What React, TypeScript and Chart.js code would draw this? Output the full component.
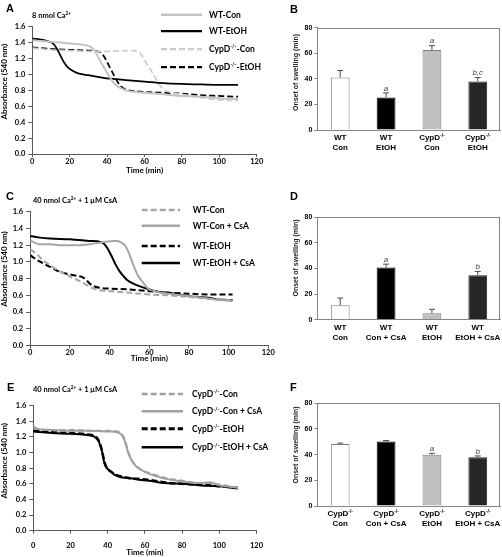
import React, { useEffect, useRef } from 'react';
import { Chart, registerables } from 'chart.js';
Chart.register(...registerables);

// ================= DATA =================
// Panel A : 8 nmol Ca2+
const aWtConT = [0, 5, 10, 15, 20, 25, 28, 31, 33, 35, 37, 39, 41, 43, 45, 47, 50, 55, 60, 70, 80, 90, 100, 110];
const aWtConV = [1.43, 1.42, 1.41, 1.40, 1.39, 1.38, 1.37, 1.35, 1.31, 1.23, 1.14, 1.06, 0.98, 0.91, 0.86, 0.83, 0.80, 0.78, 0.77, 0.75, 0.73, 0.72, 0.70, 0.69];
const aWtEtohT = [0, 4, 8, 11, 13, 15, 17, 19, 22, 25, 30, 35, 40, 45, 50, 60, 70, 80, 90, 100, 110];
const aWtEtohV = [1.45, 1.44, 1.42, 1.39, 1.33, 1.24, 1.15, 1.09, 1.04, 1.01, 0.99, 0.97, 0.95, 0.94, 0.93, 0.91, 0.89, 0.88, 0.875, 0.87, 0.87];
const aCypConT = [0, 10, 20, 30, 40, 50, 55, 57, 59, 61, 63, 65, 67, 69, 71, 75, 80, 90, 100, 110];
const aCypConV = [1.33, 1.31, 1.30, 1.29, 1.29, 1.30, 1.30, 1.28, 1.22, 1.14, 1.07, 0.99, 0.91, 0.84, 0.80, 0.77, 0.75, 0.71, 0.68, 0.67];
const aCypEtohT = [0, 10, 20, 30, 35, 37, 39, 41, 43, 45, 47, 50, 55, 60, 70, 80, 90, 100, 110];
const aCypEtohV = [1.34, 1.32, 1.31, 1.30, 1.29, 1.27, 1.20, 1.11, 1.02, 0.93, 0.86, 0.81, 0.79, 0.78, 0.77, 0.76, 0.74, 0.73, 0.72];

// Panel C : 40 nmol Ca2+ + 1 uM CsA (WT)
const cWtConT = [0, 3, 6, 10, 14, 18, 22, 25, 28, 30, 32, 35, 40, 50, 60, 70, 80, 90, 102];
const cWtConV = [1.15, 1.10, 1.03, 0.96, 0.90, 0.85, 0.80, 0.77, 0.73, 0.70, 0.68, 0.66, 0.65, 0.63, 0.61, 0.60, 0.58, 0.56, 0.54];
const cWtConCsaT = [0, 2, 5, 10, 15, 20, 25, 30, 35, 38, 42, 44, 46, 48, 50, 52, 54, 56, 58, 60, 63, 66, 70, 80, 90, 102];
const cWtConCsaV = [1.26, 1.23, 1.21, 1.21, 1.20, 1.20, 1.20, 1.21, 1.23, 1.24, 1.25, 1.25, 1.23, 1.19, 1.09, 0.96, 0.85, 0.78, 0.72, 0.67, 0.65, 0.63, 0.62, 0.59, 0.56, 0.53];
const cWtEtohT = [0, 3, 6, 10, 14, 18, 22, 26, 28, 30, 32, 35, 40, 50, 60, 70, 80, 90, 102];
const cWtEtohV = [1.08, 1.03, 0.99, 0.94, 0.89, 0.86, 0.84, 0.82, 0.79, 0.74, 0.71, 0.69, 0.68, 0.67, 0.65, 0.63, 0.62, 0.61, 0.61];
const cWtEtohCsaT = [0, 5, 10, 20, 30, 35, 37, 39, 41, 43, 45, 47, 49, 52, 55, 60, 65, 70, 80, 90, 95, 102];
const cWtEtohCsaV = [1.31, 1.29, 1.28, 1.27, 1.25, 1.24, 1.22, 1.16, 1.07, 0.97, 0.89, 0.83, 0.78, 0.74, 0.71, 0.67, 0.64, 0.63, 0.59, 0.57, 0.55, 0.54];

// Panel E : 40 nmol Ca2+ + 1 uM CsA (CypD-/-)
const eConT = [0, 3, 10, 20, 30, 40, 45, 47, 49, 51, 53, 55, 58, 62, 66, 70, 80, 90, 95, 100, 110];
const eConV = [1.33, 1.30, 1.29, 1.29, 1.28, 1.28, 1.27, 1.25, 1.18, 1.01, 0.90, 0.84, 0.78, 0.74, 0.71, 0.68, 0.64, 0.61, 0.61, 0.59, 0.55];
const eConCsaV = [1.32, 1.30, 1.29, 1.28, 1.28, 1.27, 1.26, 1.24, 1.16, 1.00, 0.90, 0.83, 0.78, 0.73, 0.70, 0.67, 0.63, 0.61, 0.62, 0.58, 0.55];
const eEtohT = [0, 5, 10, 20, 30, 33, 35, 36, 37, 38, 39, 40, 42, 44, 48, 52, 58, 65, 70, 80, 90, 100, 110];
const eEtohV = [1.28, 1.27, 1.26, 1.25, 1.23, 1.21, 1.16, 1.10, 1.02, 0.90, 0.83, 0.79, 0.75, 0.72, 0.69, 0.67, 0.66, 0.64, 0.62, 0.60, 0.59, 0.57, 0.55];
const eEtohCsaV = [1.27, 1.26, 1.25, 1.24, 1.22, 1.20, 1.15, 1.09, 1.01, 0.89, 0.82, 0.79, 0.75, 0.71, 0.68, 0.67, 0.65, 0.63, 0.61, 0.60, 0.58, 0.57, 0.54];

// Bar panels (onset of swelling, min)
const bLabels = [['WT', 'Con'], ['WT', 'EtOH'], ['CypD^(-/-)', 'Con'], ['CypD^(-/-)', 'EtOH']];
const bMeans = [41, 25.5, 62.5, 38];
const bErr = [5.5, 3.5, 3.5, 3];
const bSig = ['', 'a', 'a', 'b,c'];

const dLabels = [['WT', 'Con'], ['WT', 'Con + CsA'], ['WT', 'EtOH'], ['WT', 'EtOH + CsA']];
const dMeans = [11.2, 40.8, 5.0, 34.8];
const dErr = [5.7, 2.6, 3.1, 2.9];
const dSig = ['', 'a', '', 'b'];

const fLabels = [['CypD^(-/-)', 'Con'], ['CypD^(-/-)', 'Con + CsA'], ['CypD^(-/-)', 'EtOH'], ['CypD^(-/-)', 'EtOH + CsA']];
const fMeans = [48.2, 50.2, 40.0, 38.0];
const fErr = [0.8, 0.8, 1.0, 1.0];
const fSig = ['', '', 'a', 'b'];

// ================= STYLE =================
const LATO = 'Lato, "Open Sans", sans-serif';
const ARIAL = '"Liberation Sans", Arial, sans-serif';
const AX = '#595959';
const BOX = '#868686';
const BAR_BG = ['#ffffff', '#000000', '#c0c0c0', '#262626'];
const BAR_BORDER = ['#7f7f7f', '#000000', '#7f7f7f', '#262626'];

function parseRich(s: string) {
  const parts: { t: string; sup: boolean }[] = [];
  const re = /\^\(([^)]*)\)/g;
  let last = 0;
  let m: RegExpExecArray | null;
  while ((m = re.exec(s))) {
    if (m.index > last) parts.push({ t: s.slice(last, m.index), sup: false });
    parts.push({ t: m[1], sup: true });
    last = re.lastIndex;
  }
  if (last < s.length) parts.push({ t: s.slice(last), sup: false });
  return parts;
}

function drawRich(ctx: any, s: string, x: number, y: number, o: any) {
  const parts = parseRich(s);
  const f = (sup: boolean) => `${o.italic ? 'italic ' : ''}${o.bold ? 'bold ' : ''}${sup ? o.size * 0.62 : o.size}px ${o.family}`;
  let w = 0;
  const widths = parts.map((p) => {
    ctx.font = f(p.sup);
    const mw = ctx.measureText(p.t).width;
    w += mw;
    return mw;
  });
  let cx = o.align === 'center' ? x - w / 2 : o.align === 'right' ? x - w : x;
  const base = y + o.size * 0.36;
  ctx.fillStyle = o.color || '#000';
  ctx.textAlign = 'left';
  ctx.textBaseline = 'alphabetic';
  parts.forEach((p, i) => {
    ctx.font = f(p.sup);
    ctx.fillText(p.t, cx, p.sup ? base - o.size * 0.42 : base);
    cx += widths[i];
  });
}

function drawRotated(ctx: any, s: string, x: number, y: number, o: any) {
  ctx.save();
  ctx.translate(x, y);
  ctx.rotate(-Math.PI / 2);
  drawRich(ctx, s, 0, 0, { ...o, align: 'center' });
  ctx.restore();
}

// ================= LINE PANELS =================
function lineConfig(p: any) {
  const a = p.area;
  const extras = {
    id: 'extras' + p.letter,
    afterDraw(chart: any) {
      const ctx = chart.ctx;
      ctx.save();
      drawRich(ctx, p.letter, p.letterPos[0], p.letterPos[1], { size: 11, family: ARIAL, bold: true });
      drawRich(ctx, p.cond, p.condPos[0], p.condPos[1], { size: 7.5, family: LATO, bold: true });
      drawRotated(ctx, 'Absorbance (540 nm)', p.yTitlePos[0], p.yTitlePos[1], { size: 8, family: LATO, bold: true });
      chart.data.datasets.forEach((ds: any, i: number) => {
        const y = p.legend.ys[i];
        ctx.save();
        ctx.strokeStyle = ds.borderColor;
        ctx.lineWidth = ds.borderWidth + 0.5;
        ctx.setLineDash(ds.borderDash || []);
        ctx.beginPath();
        ctx.moveTo(p.legend.x1, y);
        ctx.lineTo(p.legend.x2, y);
        ctx.stroke();
        ctx.restore();
        drawRich(ctx, ds.label, p.legend.tx, y, { size: 8.5, family: LATO, bold: true });
      });
      ctx.restore();
    },
  };
  return {
    type: 'line',
    data: {
      datasets: p.series.map((s: any) => ({
        label: s.label,
        data: s.t.map((t: number, i: number) => ({ x: t, y: s.v[i] })),
        borderColor: s.color,
        borderWidth: s.width,
        borderDash: s.dash,
        pointRadius: 0,
        fill: false,
        cubicInterpolationMode: 'monotone',
      })),
    },
    options: {
      responsive: false,
      animation: false,
      devicePixelRatio: 1,
      layout: { padding: { left: 0, top: a.top, right: p.box.width - a.right, bottom: 0 } },
      plugins: { legend: { display: false }, tooltip: { enabled: false } },
      scales: {
        x: {
          type: 'linear',
          min: 0,
          max: 120,
          ticks: { stepSize: 20, autoSkip: false, maxRotation: 0, padding: p.xTickPad, color: '#000', font: { family: LATO, size: 7.5, weight: 'bold' } },
          grid: { drawOnChartArea: false, drawTicks: true, tickLength: 3, color: AX },
          border: { color: AX, width: 1 },
          title: { display: true, text: 'Time (min)', color: '#000', padding: 0, font: { family: LATO, size: 8, weight: 'bold' } },
          afterFit: (s: any) => { s.height = p.box.height - a.bottom; },
        },
        y: {
          type: 'linear',
          min: 0,
          max: 1.6,
          ticks: { stepSize: 0.2, padding: 3, color: '#000', font: { family: LATO, size: 7.5, weight: 'bold' }, callback: (v: number) => v.toFixed(1) },
          grid: { drawOnChartArea: false, drawTicks: true, tickLength: 4, color: AX },
          border: { color: AX, width: 1 },
          afterFit: (s: any) => { s.width = a.left; },
        },
      },
    },
    plugins: [extras],
  };
}

// ================= BAR PANELS =================
function barConfig(p: any) {
  const a = p.area;
  const extras = {
    id: 'bars' + p.letter,
    afterDraw(chart: any) {
      const ctx = chart.ctx;
      const ca = chart.chartArea;
      const ys = chart.scales.y;
      const meta = chart.getDatasetMeta(0);
      ctx.save();
      ctx.strokeStyle = BOX;
      ctx.lineWidth = 1;
      ctx.strokeRect(Math.round(ca.left) + 0.5, Math.round(ca.top) + 0.5, Math.round(ca.right - ca.left) - 1, Math.round(ca.bottom - ca.top));
      p.means.forEach((m: number, i: number) => {
        const x = meta.data[i].x;
        const y0 = ys.getPixelForValue(m);
        const y1 = ys.getPixelForValue(m + p.err[i]);
        ctx.strokeStyle = '#4d4d4d';
        ctx.lineWidth = 1;
        ctx.beginPath();
        ctx.moveTo(x, y0);
        ctx.lineTo(x, y1);
        ctx.moveTo(x - 3, y1);
        ctx.lineTo(x + 3, y1);
        ctx.stroke();
        if (p.sig[i]) drawRich(ctx, p.sig[i], x, y1 - 5, { size: 8, family: ARIAL, italic: true, align: 'center', color: '#404040' });
        const lab = chart.data.labels[i];
        drawRich(ctx, lab[0], x, ca.bottom + 7.5, { size: 8, family: ARIAL, bold: true, align: 'center' });
        drawRich(ctx, lab[1], x, ca.bottom + 17.5, { size: 8, family: ARIAL, bold: true, align: 'center' });
      });
      drawRich(ctx, p.letter, p.letterPos[0], p.letterPos[1], { size: 11, family: ARIAL, bold: true });
      drawRotated(ctx, 'Onset of swelling (min)', p.yTitlePos[0], p.yTitlePos[1], { size: 7, family: ARIAL, bold: true, color: '#222' });
      ctx.restore();
    },
  };
  return {
    type: 'bar',
    data: {
      labels: p.labels,
      datasets: [{
        data: p.means,
        backgroundColor: BAR_BG,
        borderColor: BAR_BORDER,
        borderWidth: 1,
        barPercentage: 0.41,
        categoryPercentage: 1,
      }],
    },
    options: {
      responsive: false,
      animation: false,
      devicePixelRatio: 1,
      layout: { padding: { left: 0, top: a.top, right: p.box.width - a.right, bottom: 0 } },
      plugins: { legend: { display: false }, tooltip: { enabled: false } },
      scales: {
        x: {
          type: 'category',
          ticks: { display: false },
          grid: { display: false },
          border: { color: BOX, width: 1 },
          afterFit: (s: any) => { s.height = p.box.height - a.bottom; },
        },
        y: {
          min: 0,
          max: 80,
          ticks: { stepSize: 20, padding: 2, color: '#000', font: { family: ARIAL, size: 7, weight: 'bold' } },
          grid: { drawOnChartArea: false, drawTicks: true, tickLength: 3, color: BOX },
          border: { color: BOX, width: 1 },
          afterFit: (s: any) => { s.width = a.left; },
        },
      },
    },
    plugins: [extras],
  };
}

// ================= PANEL LAYOUTS =================
const panelA = {
  letter: 'A',
  box: { left: 0, top: 0, width: 270, height: 175 },
  area: { left: 32.3, right: 256.7, top: 26.7, bottom: 154 },
  xTickPad: 0,
  letterPos: [6, 8],
  cond: '8 nmol Ca^(2+)',
  condPos: [32, 15],
  yTitlePos: [4.5, 81.7],
  legend: { x1: 161, x2: 202, tx: 209, ys: [14.7, 31, 49, 67] },
  series: [
    { label: 'WT-Con', t: aWtConT, v: aWtConV, color: '#c4c4c4', width: 2, dash: [] },
    { label: 'WT-EtOH', t: aWtEtohT, v: aWtEtohV, color: '#000000', width: 1.75, dash: [] },
    { label: 'CypD^(-/-)-Con', t: aCypConT, v: aCypConV, color: '#cccccc', width: 1.75, dash: [6, 3] },
    { label: 'CypD^(-/-)-EtOH', t: aCypEtohT, v: aCypEtohV, color: '#000000', width: 1.75, dash: [6, 3] },
  ],
};

const panelC = {
  letter: 'C',
  box: { left: 0, top: 185, width: 278, height: 178 },
  area: { left: 30.2, right: 268.3, top: 26.7, bottom: 160.5 },
  xTickPad: 0,
  letterPos: [6, 11],
  cond: '40 nmol Ca^(2+) + 1 \u03BCM CsA',
  condPos: [33, 15],
  yTitlePos: [4.5, 84],
  legend: { x1: 141.7, x2: 180, tx: 192.7, ys: [25, 40.7, 61, 78] },
  series: [
    { label: 'WT-Con', t: cWtConT, v: cWtConV, color: '#a6a6a6', width: 2, dash: [6, 3] },
    { label: 'WT-Con + CsA', t: cWtConCsaT, v: cWtConCsaV, color: '#a6a6a6', width: 2, dash: [] },
    { label: 'WT-EtOH', t: cWtEtohT, v: cWtEtohV, color: '#000000', width: 2, dash: [6, 3] },
    { label: 'WT-EtOH + CsA', t: cWtEtohCsaT, v: cWtEtohCsaV, color: '#000000', width: 2, dash: [] },
  ],
};

const panelE = {
  letter: 'E',
  box: { left: 0, top: 370, width: 270, height: 187 },
  area: { left: 33.3, right: 260.1, top: 35.7, bottom: 160.7 },
  xTickPad: 7,
  letterPos: [7, 17.5],
  cond: '40 nmol Ca^(2+) + 1 \u03BCM CsA',
  condPos: [33, 19],
  yTitlePos: [4.5, 90.8],
  legend: { x1: 141.7, x2: 183, tx: 192, ys: [24, 41.3, 58.7, 77.3] },
  series: [
    { label: 'CypD^(-/-)-Con', t: eConT, v: eConV, color: '#a0a0a0', width: 2, dash: [6, 3] },
    { label: 'CypD^(-/-)-Con + CsA', t: eConT, v: eConCsaV, color: '#a0a0a0', width: 2, dash: [] },
    { label: 'CypD^(-/-)-EtOH', t: eEtohT, v: eEtohV, color: '#000000', width: 2.5, dash: [6, 3] },
    { label: 'CypD^(-/-)-EtOH + CsA', t: eEtohT, v: eEtohCsaV, color: '#000000', width: 2, dash: [] },
  ],
};

const panelB = {
  letter: 'B',
  box: { left: 260, top: 0, width: 242, height: 178 },
  area: { left: 57.3, right: 240.7, top: 27.7, bottom: 130 },
  letterPos: [30, 9],
  yTitlePos: [35, 72.5],
  labels: bLabels, means: bMeans, err: bErr, sig: bSig,
};

const panelD = {
  letter: 'D',
  box: { left: 260, top: 185, width: 242, height: 178 },
  area: { left: 57.3, right: 240.7, top: 32.3, bottom: 134.7 },
  letterPos: [30, 11],
  yTitlePos: [35, 73],
  labels: dLabels, means: dMeans, err: dErr, sig: dSig,
};

const panelF = {
  letter: 'F',
  box: { left: 260, top: 370, width: 242, height: 187 },
  area: { left: 57.3, right: 240.7, top: 33.3, bottom: 136 },
  letterPos: [30, 17.5],
  yTitlePos: [35, 75],
  labels: fLabels, means: fMeans, err: fErr, sig: fSig,
};

function ChartBox({ box, make }: { box: any; make: () => any }) {
  const ref = useRef<HTMLCanvasElement>(null);
  useEffect(() => {
    const chart = new Chart(ref.current as HTMLCanvasElement, make() as any);
    return () => chart.destroy();
  }, []);
  return (
    <canvas
      ref={ref}
      width={box.width}
      height={box.height}
      style={{ position: 'absolute', left: box.left, top: box.top, width: box.width, height: box.height }}
    />
  );
}

export default function App() {
  return (
    <div style={{ position: 'absolute', left: 0, top: 0, width: 502, height: 557, background: '#ffffff', overflow: 'hidden' }}>
      <ChartBox box={panelA.box} make={() => lineConfig(panelA)} />
      <ChartBox box={panelC.box} make={() => lineConfig(panelC)} />
      <ChartBox box={panelE.box} make={() => lineConfig(panelE)} />
      <ChartBox box={panelB.box} make={() => barConfig(panelB)} />
      <ChartBox box={panelD.box} make={() => barConfig(panelD)} />
      <ChartBox box={panelF.box} make={() => barConfig(panelF)} />
    </div>
  );
}
